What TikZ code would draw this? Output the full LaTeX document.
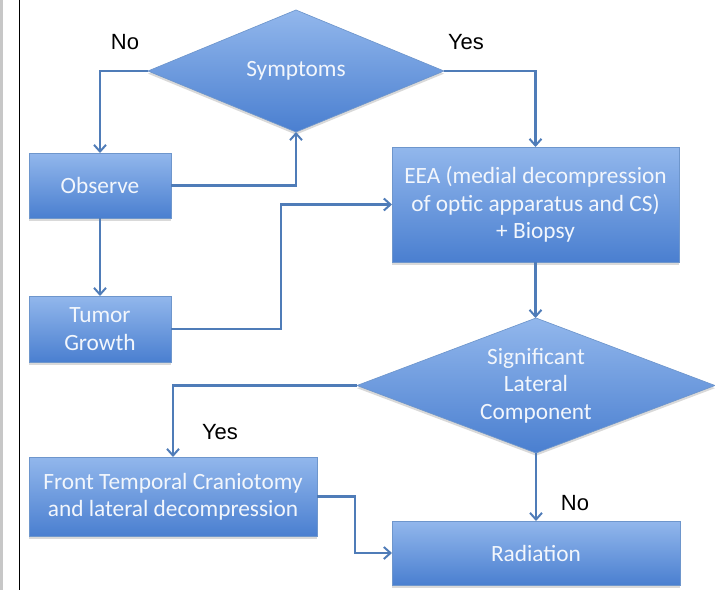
\documentclass[tikz,border=0pt]{standalone}
\usepackage{fontspec}
\setmainfont{Carlito}
\newfontfamily\labelfont{Liberation Sans}
\usetikzlibrary{shapes.geometric,arrows.meta,shadows}
\definecolor{boxtop}{HTML}{92B7EC}
\definecolor{boxbot}{HTML}{4A7FD0}
\definecolor{boxedge}{HTML}{6E96CC}
\definecolor{linecol}{HTML}{4F7CB8}
\definecolor{txtcol}{HTML}{F2F6FC}
\tikzset{
  base/.style={draw=boxedge, line width=0.5pt, top color=boxtop, bottom color=boxbot,
    text=txtcol, font=\fontsize{17.5}{20.5}\selectfont, align=center, inner sep=0pt, outer sep=0pt,
    drop shadow={shadow xshift=0pt, shadow yshift=-2pt, opacity=0.25, fill=black!60}},
  procbox/.style={base, rectangle},
  decbox/.style={base, diamond},
  arr/.style={draw=linecol, line width=1.7pt, -{Straight Barb[length=5pt,width=9pt,line width=1.5pt]}},
  lbl/.style={font=\labelfont\fontsize{16.5}{19}\selectfont, text=black, inner sep=0pt}
}
\begin{document}
\begin{tikzpicture}[x=0.75pt,y=-0.75pt]
\useasboundingbox (0,0) rectangle (715,590);
\fill[black!22] (0,0) rectangle (3,590);
\draw[black, line width=1.1pt] (19.5,0) -- (19.5,590);
% nodes
\node[decbox, minimum width=222pt, minimum height=91.5pt, shape aspect=2.4] (sym) at (296,71) {Symptoms};
\node[procbox, minimum width=106.5pt, minimum height=48.75pt] (obs) at (100,185.5) {Observe};
\node[procbox, minimum width=106.5pt, minimum height=49.5pt] (tum) at (100,329) {Tumor\\Growth};
\node[procbox, minimum width=215.25pt, minimum height=86.25pt] (eea) at (535.5,204.5) {EEA (medial decompression\\of optic apparatus and CS)\\+ Biopsy};
\node[decbox, minimum width=268.5pt, minimum height=101.25pt, shape aspect=2.65] (sig) at (536,385.5) {Significant\\Lateral\\Component};
\node[procbox, minimum width=216pt, minimum height=59.25pt] (fro) at (173,496.5) {Front Temporal Craniotomy\\and lateral decompression};
\node[procbox, minimum width=216pt, minimum height=48pt] (rad) at (536,553) {Radiation};
% connectors
\draw[arr] (sym.west) -| (obs.north);
\draw[arr] (obs.east) -| (sym.south);
\draw[arr] (obs.south) -- (tum.north);
\draw[arr] (tum.east) -- ++(110,0) |- (eea.west);
\draw[arr] (sym.east) -| (eea.north);
\draw[arr] (eea.south) -- (eea.south |- sig.north);
\draw[arr] (sig.west) -| (fro.north);
\draw[arr] (fro.east) -- ++(38,0) |- (rad.west);
\draw[arr] (sig.south) -- (rad.north);
% labels
\node[lbl] (lno1) at (125,42) {No};
\node[lbl] (lyes1) at (466,42) {Yes};
\node[lbl] (lyes2) at (220,432) {Yes};
\node[lbl] (lno2) at (575,503) {No};
\end{tikzpicture}
\end{document}
